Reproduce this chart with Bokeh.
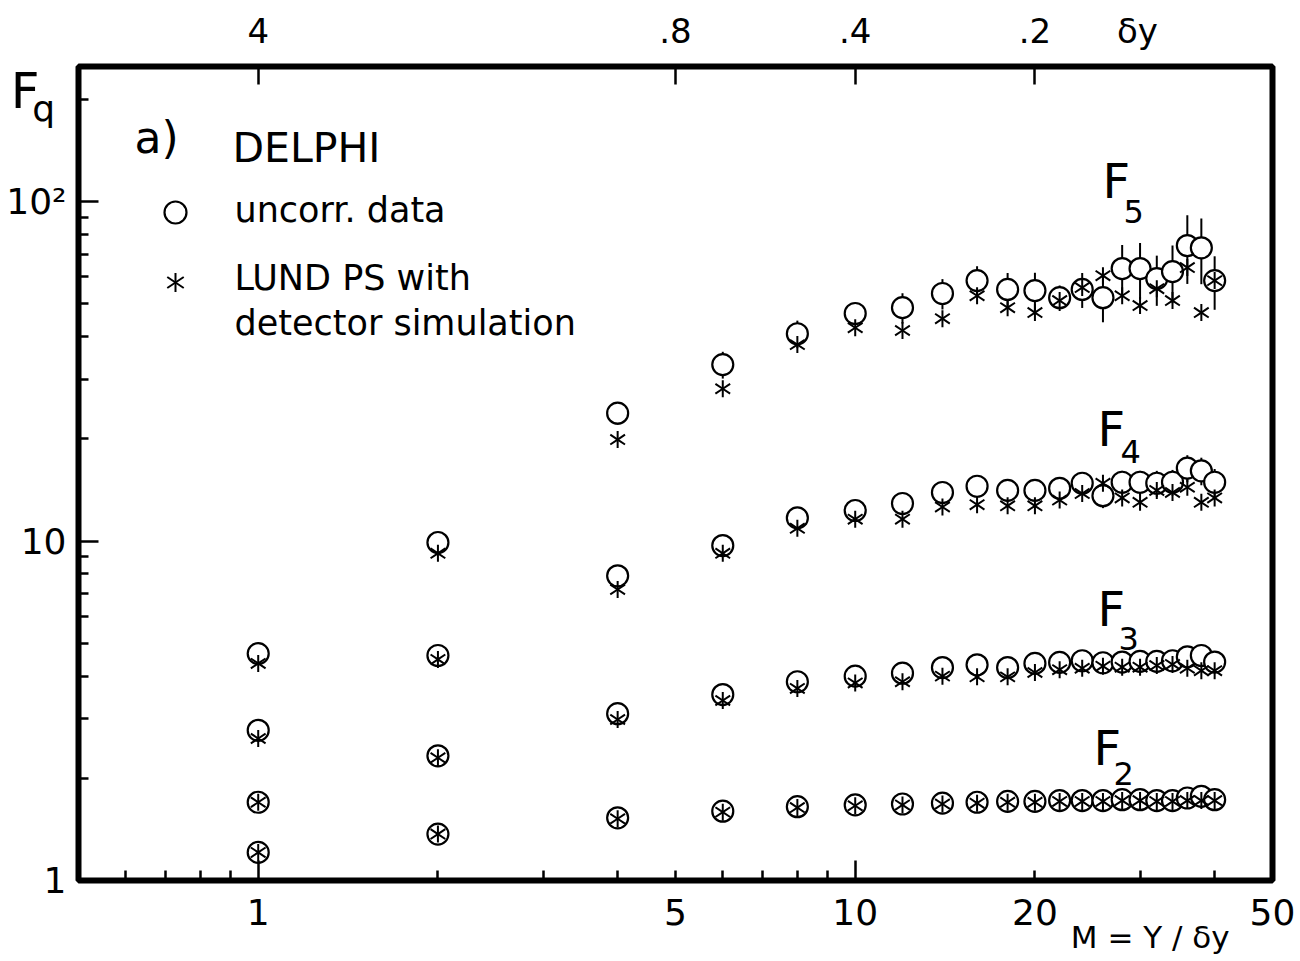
import math
import numpy as np
from bokeh.plotting import figure
from bokeh.models import (LogAxis, FixedTicker, Label, Range1d, ColumnDataSource)
from bokeh.embed import file_html
from bokeh.resources import INLINE

# ---------------- data ----------------
M = [1, 2, 4, 6, 8, 10, 12, 14, 16, 18, 20, 22, 24, 26, 28, 30, 32, 34, 36, 38, 40]

F5_data = [4.66, 9.9, 23.8, 33.1, 40.8, 46.8, 48.7, 53.6, 58.5, 55.1, 54.7, 52.1, 55.1, 52.1, 63.5, 63.5, 59.3, 62.2, 74.2, 73.1, 58.5]
F5_mc = [4.36, 9.2, 19.9, 28.1, 37.9, 42.5, 41.7, 45.2, 52.8, 48.7, 47.1, 51.1, 55.8, 60.5, 52.8, 49.4, 55.4, 51.1, 63.9, 47.1, 58.5]
F5_err = [0.15, 0.3, 1.8, 3.0, 3.8, 3.5, 5.0, 5.5, 6.0, 6.5, 7.0, 4.5, 6.5, 8.0, 11.0, 12.0, 10.0, 12.0, 17.0, 16.0, 10.5]

F4_data = [2.77, 4.60, 7.9, 9.7, 11.7, 12.3, 12.9, 13.9, 14.5, 14.1, 14.1, 14.3, 14.8, 13.6, 14.9, 14.9, 14.8, 14.9, 16.4, 16.1, 14.9]
F4_mc = [2.62, 4.48, 7.2, 9.2, 10.9, 11.6, 11.6, 12.6, 12.8, 12.7, 12.7, 13.2, 13.8, 14.8, 13.4, 13.0, 14.1, 13.9, 14.4, 13.0, 13.4]
F4_err = [0.12, 0.2, 0.35, 0.45, 0.6, 0.65, 0.75, 0.8, 0.9, 0.95, 1.0, 1.05, 1.1, 1.1, 1.2, 1.2, 1.3, 1.3, 1.5, 1.5, 1.4]

F3_data = [1.70, 2.33, 3.10, 3.53, 3.85, 4.0, 4.08, 4.24, 4.32, 4.24, 4.36, 4.39, 4.44, 4.38, 4.40, 4.42, 4.42, 4.44, 4.56, 4.60, 4.40]
F3_mc = [1.70, 2.30, 2.98, 3.39, 3.68, 3.82, 3.85, 4.0, 3.98, 3.98, 4.10, 4.18, 4.22, 4.28, 4.25, 4.25, 4.30, 4.33, 4.22, 4.15, 4.15]
F3_err = [0.04, 0.06, 0.08, 0.09, 0.1, 0.1, 0.11, 0.12, 0.12, 0.13, 0.13, 0.14, 0.14, 0.15, 0.15, 0.16, 0.16, 0.17, 0.18, 0.18, 0.18]

F2_data = [1.21, 1.37, 1.53, 1.60, 1.65, 1.67, 1.68, 1.69, 1.70, 1.71, 1.71, 1.72, 1.72, 1.72, 1.73, 1.73, 1.72, 1.72, 1.75, 1.77, 1.73]
F2_mc = [1.21, 1.37, 1.52, 1.59, 1.64, 1.66, 1.67, 1.68, 1.69, 1.70, 1.70, 1.71, 1.71, 1.71, 1.72, 1.72, 1.71, 1.71, 1.72, 1.72, 1.72]
F2_err = [0.015, 0.02, 0.02, 0.02, 0.025, 0.025, 0.025, 0.03, 0.03, 0.03, 0.03, 0.03, 0.03, 0.035, 0.035, 0.035, 0.035, 0.04, 0.04, 0.04, 0.04]

# ticks / tick labels
x_major_long = [1, 10]
x_minor = [0.6, 0.7, 0.8, 0.9, 2, 3, 4, 5, 6, 7, 8, 9, 20, 30, 40]
x_label_ticks = [1, 5, 10, 20, 50]
x_labels = ["1", "5", "10", "20", "50"]
x_title_tick = 31.2
x_title = "M = Y / δy"
top_ticks = [1, 5, 10, 20]
top_labels = ["4", ".8", ".4", ".2"]
top_title_tick = 29.7
top_title = "δy"
y_ticks = [1, 10, 100]
y_labels = ["1", "10", "10²"]
y_minor = [2, 3, 4, 5, 6, 7, 8, 9, 20, 30, 40, 50, 60, 70, 80, 90, 200]
y_title_F_tick = 212
y_title_q_tick = 188

legend_labels = ["uncorr. data", "LUND PS with", "detector simulation"]

# ---------------- layout ----------------
W, H = 1300, 961
FL, FR, FT, FB = 78, 1272, 66, 880
XMIN, XMAX, YMIN, YMAX = 0.5, 50, 1, 250
FONT = "DejaVu Sans"
TICK_FS = "36px"


def dx(px):
    lx0, lx1 = math.log10(XMIN), math.log10(XMAX)
    return 10 ** (lx0 + (px - FL) / (FR - FL) * (lx1 - lx0))


def dy(py):
    ly0, ly1 = math.log10(YMIN), math.log10(YMAX)
    return 10 ** (ly0 + (FB - py) / (FB - FT) * (ly1 - ly0))


p = figure(width=W, height=H, x_axis_type="log", y_axis_type="log",
           x_range=Range1d(XMIN, XMAX), y_range=Range1d(YMIN, YMAX),
           output_backend="svg", toolbar_location=None,
           min_border_left=FL, min_border_right=W - FR,
           min_border_top=FT, min_border_bottom=H - FB)
p.background_fill_color = "white"
p.border_fill_color = "white"
p.outline_line_color = "black"
p.outline_line_width = 6
p.grid.visible = False


def style_ticks_only(axis, major, minor, major_len, minor_len):
    axis.ticker = FixedTicker(ticks=major, minor_ticks=minor)
    axis.major_label_overrides = {t: "" for t in major}
    axis.major_tick_in = major_len
    axis.major_tick_out = 0
    axis.minor_tick_in = minor_len
    axis.minor_tick_out = 0
    axis.major_tick_line_width = 2.5
    axis.minor_tick_line_width = 2.5
    axis.axis_line_color = None
    axis.major_label_text_font_size = "1px"
    axis.major_label_standoff = 0


def labels_only(ticks, labels, standoff, size):
    return LogAxis(ticker=FixedTicker(ticks=ticks),
                   major_label_overrides=dict(zip(ticks, labels)),
                   major_tick_in=0, major_tick_out=0, minor_tick_in=0, minor_tick_out=0,
                   major_tick_line_color=None, minor_tick_line_color=None,
                   axis_line_color=None, major_label_standoff=standoff,
                   major_label_text_font=FONT, major_label_text_font_size=size,
                   major_label_text_color="black")


# bottom: ticks axis, labels axis, title axis
style_ticks_only(p.xaxis[0], x_major_long, x_minor, 20, 10)
p.add_layout(labels_only(x_label_ticks, x_labels, 18, TICK_FS), "below")
p.add_layout(labels_only([x_title_tick], [x_title], -9, "31px"), "below")

# top: delta y = 4 / M
top_ticks_axis = LogAxis()
p.add_layout(top_ticks_axis, "above")
style_ticks_only(top_ticks_axis, top_ticks, [], 18, 0)
p.add_layout(labels_only(top_ticks + [top_title_tick], top_labels + [top_title], 16, "34px"), "above")

# left
style_ticks_only(p.yaxis[0], y_ticks, y_minor, 20, 10)
p.add_layout(labels_only(y_ticks + [y_title_q_tick], y_labels + ["q\u00a0"], 12, TICK_FS), "left")
p.add_layout(labels_only([y_title_F_tick], ["F"], -36, "50px"), "left")

# ---------------- data marks ----------------
series = [(F2_data, F2_mc, F2_err), (F3_data, F3_mc, F3_err),
          (F4_data, F4_mc, F4_err), (F5_data, F5_mc, F5_err)]
sources = []
for d, mc, e in series:
    d = np.array(d); e = np.array(e)
    sources.append(ColumnDataSource(dict(M=M, data=d, mc=mc, lo=d - e, hi=d + e)))

CIRC = dict(marker="circle", fill_color="white", line_color="black", line_width=2.2)
STAR = dict(marker="y", line_color="black", line_width=2)

for s in sources:
    p.segment(x0="M", y0="lo", x1="M", y1="hi", source=s, line_color="black", line_width=2)
for s in sources:
    p.scatter(x="M", y="data", source=s, size=21, **CIRC)
for s in sources:
    p.scatter(x="M", y="mc", source=s, size=17, **STAR)
    p.scatter(x="M", y="mc", source=s, size=17, angle=math.pi, **STAR)

# legend keys (layout positions of the legend box)
LEG_KEY_X = 175
LEG_ROWS = [212, 282]
p.scatter(x=[dx(LEG_KEY_X)], y=[dy(LEG_ROWS[0])], size=22, **CIRC)
p.scatter(x=[dx(LEG_KEY_X)], y=[dy(LEG_ROWS[1])], size=19, **STAR)
p.scatter(x=[dx(LEG_KEY_X)], y=[dy(LEG_ROWS[1])], size=19, angle=math.pi, **STAR)

# ---------------- texts ----------------
BASE_SHIFT = 0.37


def lab(px, py, text, size):
    p.add_layout(Label(x=dx(px), y=dy(py - BASE_SHIFT * size), text=text, text_font=FONT,
                       text_font_size=f"{size}px", text_color="black",
                       text_align="left", text_baseline="alphabetic"))


lab(234, 222, legend_labels[0], 35)
lab(234, 290, legend_labels[1], 35)
lab(234, 335, legend_labels[2], 35)
lab(134, 153, "a)", 44)
lab(232, 163, "DELPHI", 41)
for fx, fy, sxp, syp, sub in [(1102, 198, 1123, 223, "5"), (1097, 446, 1120, 463, "4"),
                              (1097, 626, 1118, 650, "3"), (1093, 765, 1113, 785, "2")]:
    lab(fx, fy, "F", 48)
    lab(sxp, syp, sub, 32)

open("out.html", "w").write(file_html(p, INLINE))
